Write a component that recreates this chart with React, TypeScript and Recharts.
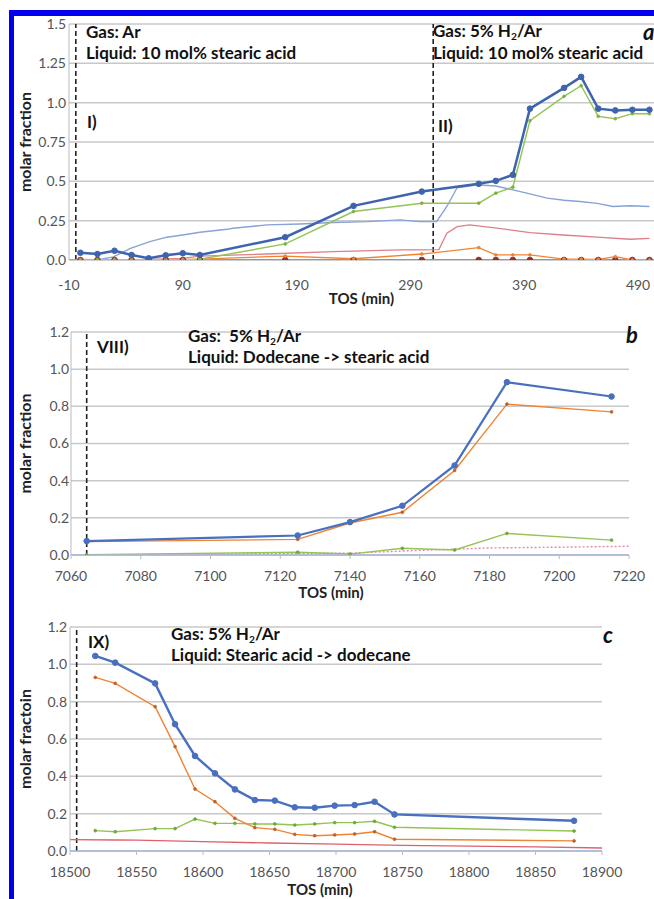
import React from 'react';
import { LineChart, Line, XAxis, YAxis, CartesianGrid, ReferenceLine, Label } from 'recharts';

const FONT = 'Lato, "Open Sans", sans-serif';

// ---- panel a: 10 mol% stearic acid, Ar then 5% H2/Ar
const aTimes = [0, 15, 30, 45, 60, 75, 90, 105, 180, 240, 300, 350, 365, 380, 395, 425, 440, 455, 470, 485, 500];
const aBlue = [0.046, 0.038, 0.059, 0.032, 0.011, 0.03, 0.043, 0.032, 0.145, 0.344, 0.435, 0.484, 0.503, 0.541, 0.962, 1.094, 1.164, 0.962, 0.951, 0.955, 0.955];
const aGreen = [0, 0, 0, 0, 0, 0, 0, 0.005, 0.102, 0.308, 0.361, 0.361, 0.425, 0.463, 0.885, 1.04, 1.108, 0.913, 0.898, 0.93, 0.93];
const aOrange = [0.004, 0.003, 0.003, 0.003, 0.003, 0.003, 0.003, 0.005, 0.025, 0.008, 0.038, 0.079, 0.032, 0.032, 0.032, 0.006, 0.006, 0.004, 0.021, 0.0, 0.0];
const aDarkRed = [0, 0, 0, 0, 0, 0, 0, 0, 0, 0, 0, 0, 0, 0, 0, 0, 0, 0, 0, 0, 0];
const aLightTimes = [-2, 15, 29, 44, 61, 76, 90, 105, 129, 134, 164, 193, 222, 252, 281, 298, 313, 322, 331, 342, 348, 365, 380, 395, 410, 425, 439, 454, 468, 483, 500];
const aLightBlue = [0.0, 0.0, 0.02, 0.074, 0.117, 0.145, 0.159, 0.176, 0.195, 0.202, 0.223, 0.229, 0.238, 0.244, 0.255, 0.244, 0.244, 0.34, 0.459, 0.47, 0.478, 0.47, 0.446, 0.42, 0.393, 0.38, 0.372, 0.36, 0.34, 0.345, 0.34];
const aPinkTimes = [0, 45, 90, 105, 164, 222, 281, 299, 315, 322, 331, 342, 366, 395, 424, 454, 483, 500];
const aPink = [0.0, 0.0, 0.01, 0.025, 0.038, 0.053, 0.064, 0.064, 0.066, 0.17, 0.212, 0.223, 0.202, 0.174, 0.159, 0.145, 0.132, 0.138];
const aBaseTimes = [-10, 504];
const aBase = [0.003, 0.003];
const aXTicks = [-10, 90, 190, 290, 390, 490];
const aYTicks = [0, 0.25, 0.5, 0.75, 1.0, 1.25, 1.5];
const aSwitch = [-4, 310];

// ---- panel b: dodecane -> stearic acid
const bTimes = [7064.5, 7125, 7140, 7155, 7170, 7185, 7215];
const bBlue = [0.075, 0.105, 0.177, 0.265, 0.482, 0.93, 0.853];
const bOrange = [0.072, 0.084, 0.172, 0.23, 0.455, 0.812, 0.77];
const bGreen = [0.002, 0.015, 0.005, 0.036, 0.027, 0.116, 0.08];
const bPinkTimes = [7064.5, 7100, 7140, 7160, 7180, 7200, 7220];
const bPink = [0.0, 0.005, 0.01, 0.025, 0.038, 0.042, 0.047];
const bXTicks = [7060, 7080, 7100, 7120, 7140, 7160, 7180, 7200, 7220];
const bYTicks = [0, 0.2, 0.4, 0.6, 0.8, 1.0, 1.2];
const bSwitch = 7064.5;

// ---- panel c: stearic acid -> dodecane
const cTimes = [18519, 18534, 18564, 18579, 18594, 18609, 18624, 18639, 18654, 18669, 18684, 18699, 18714, 18729, 18744, 18879];
const cBlue = [1.045, 1.009, 0.898, 0.679, 0.509, 0.416, 0.33, 0.273, 0.27, 0.234, 0.232, 0.243, 0.246, 0.264, 0.196, 0.162];
const cOrange = [0.93, 0.898, 0.773, 0.559, 0.332, 0.264, 0.175, 0.125, 0.116, 0.089, 0.082, 0.086, 0.091, 0.103, 0.063, 0.054];
const cGreen = [0.109, 0.103, 0.12, 0.12, 0.171, 0.148, 0.148, 0.145, 0.145, 0.139, 0.145, 0.152, 0.152, 0.159, 0.127, 0.107];
const cRedTimes = [18500, 18535, 18550, 18600, 18650, 18700, 18750, 18800, 18850, 18900];
const cRed = [0.061, 0.059, 0.058, 0.05, 0.043, 0.037, 0.03, 0.026, 0.022, 0.016];
const cXTicks = [18500, 18550, 18600, 18650, 18700, 18750, 18800, 18850, 18900];
const cYTicks = [0, 0.2, 0.4, 0.6, 0.8, 1.0, 1.2];
const cSwitch = 18505;

const BLUE = '#3f64ae';
const ORANGE = '#ee8434';
const GREEN = '#93c455';

const zip = (ts: number[], vs: number[]) => ts.map((t, i) => ({ t, v: vs[i] }));

const tickStyle = { fontSize: 14, fill: '#555', fontFamily: FONT };
const titleStyle = { fontSize: 15, fontWeight: 700, fill: '#222', fontFamily: FONT };
const gridColor = '#c8c8c8';

const fmtA = (v: number) => (Math.abs(v * 2 - Math.round(v * 2)) < 1e-9 ? v.toFixed(1) : v.toFixed(2));
const fmt1 = (v: number) => v.toFixed(1);

const Note = ({ x, y, size = 17, italic = false, children }: any) => (
  <div style={{
    position: 'absolute', left: x, top: y - size * 0.6, fontSize: size, lineHeight: `${size * 1.1}px`,
    fontWeight: 700, fontStyle: italic ? 'italic' : 'normal', whiteSpace: 'nowrap', color: '#111', fontFamily: FONT,
  }}>{children}</div>
);

const H2 = () => <span>H<sub style={{ fontSize: '0.6em', lineHeight: 0, verticalAlign: '-0.25em' }}>2</sub></span>;

const dotBig = (c: string) => ({ r: 2.8, fill: c, stroke: c, strokeWidth: 1 });
const dotSmall = (c: string) => ({ r: 1.4, fill: c, stroke: c, strokeWidth: 0.8 });

function PanelA() {
  return (
    <div style={{ position: 'absolute', left: 0, top: 0 }}>
      <LineChart width={655} height={310} margin={{ top: 24, right: 1, left: 0, bottom: 0 }}>
        <CartesianGrid vertical={false} stroke={gridColor} strokeWidth={1.5} />
        <XAxis type="number" dataKey="t" domain={[-10, 504]} ticks={aXTicks} allowDataOverflow
          tickLine={false} axisLine={{ stroke: gridColor }} tick={tickStyle} tickMargin={14} height={50}>
          <Label value="TOS (min)" position="insideBottom" offset={6} style={titleStyle} />
        </XAxis>
        <YAxis type="number" domain={[0, 1.5]} ticks={aYTicks} tickFormatter={fmtA} allowDataOverflow width={69}
          tickLine={false} tickSize={0} tickMargin={3} axisLine={{ stroke: '#bbb' }} tick={tickStyle}>
          <Label value="molar fraction" angle={-90} position="insideLeft" offset={25}
            style={{ ...titleStyle, fontSize: 16, textAnchor: 'middle' }} />
        </YAxis>
        {aSwitch.map(x => (
          <ReferenceLine key={x} x={x} stroke="#222" strokeWidth={1.6} strokeDasharray="5 3" />
        ))}
        <Line data={zip(aBaseTimes, aBase)} dataKey="v" stroke="#8a6fb3" strokeWidth={1.3} dot={false} isAnimationActive={false} />
        <Line data={zip(aPinkTimes, aPink)} dataKey="v" stroke="#dc8089" strokeWidth={1.3} dot={false} isAnimationActive={false} />
        <Line data={zip(aLightTimes, aLightBlue)} dataKey="v" stroke="#86a2d6" strokeWidth={1.4} dot={false} isAnimationActive={false} />
        <Line data={zip(aTimes, aDarkRed)} dataKey="v" stroke="#b03a3a" strokeWidth={1.3} dot={dotBig('#9c2b2b')} isAnimationActive={false} />
        <Line data={zip(aTimes, aOrange)} dataKey="v" stroke={ORANGE} strokeWidth={1.3} dot={dotSmall(ORANGE)} isAnimationActive={false} />
        <Line data={zip(aTimes, aGreen)} dataKey="v" stroke={GREEN} strokeWidth={1.4} dot={dotSmall('#7fb044')} isAnimationActive={false} />
        <Line data={zip(aTimes, aBlue)} dataKey="v" stroke={BLUE} strokeWidth={2.5} dot={dotBig(BLUE)} isAnimationActive={false} />
      </LineChart>
      <Note x={86} y={33}>Gas: Ar</Note>
      <Note x={86} y={54}>Liquid: 10 mol% stearic acid</Note>
      <Note x={87} y={123}>I)</Note>
      <Note x={433} y={32}>Gas: 5% <H2 />/Ar</Note>
      <Note x={433} y={54}>Liquid: 10 mol% stearic acid</Note>
      <Note x={438} y={127}>II)</Note>
      <Note x={643} y={33} size={22} italic>a</Note>
    </div>
  );
}

function PanelB() {
  return (
    <div style={{ position: 'absolute', left: 0, top: 300 }}>
      <LineChart width={654} height={303} margin={{ top: 32, right: 25, left: 0, bottom: 0 }}>
        <CartesianGrid vertical={false} stroke={gridColor} strokeWidth={1.5} />
        <XAxis type="number" dataKey="t" domain={[7060, 7220]} ticks={bXTicks} allowDataOverflow
          tickLine={{ stroke: '#bbb' }} tickSize={4} axisLine={{ stroke: '#aab4d8', strokeWidth: 1.5 }} tick={tickStyle} tickMargin={12} height={48}>
          <Label value="TOS (min)" position="insideBottom" offset={5} dx={-19} style={titleStyle} />
        </XAxis>
        <YAxis type="number" domain={[0, 1.2]} ticks={bYTicks} tickFormatter={fmt1} allowDataOverflow width={71}
          tickLine={false} tickSize={0} tickMargin={2} axisLine={{ stroke: '#bbb' }} tick={tickStyle}>
          <Label value="molar fraction" angle={-90} position="insideLeft" offset={25}
            style={{ ...titleStyle, fontSize: 16, textAnchor: 'middle' }} />
        </YAxis>
        <ReferenceLine x={bSwitch} stroke="#222" strokeWidth={1.6} strokeDasharray="5 3" />
        <Line data={zip(bPinkTimes, bPink)} dataKey="v" stroke="#e08aa8" strokeWidth={1.4} strokeDasharray="2 2" dot={false} isAnimationActive={false} />
        <Line data={zip(bTimes, bGreen)} dataKey="v" stroke={GREEN} strokeWidth={1.4} dot={dotSmall('#6fa83a')} isAnimationActive={false} />
        <Line data={zip(bTimes, bOrange)} dataKey="v" stroke={ORANGE} strokeWidth={1.4} dot={dotSmall('#c0602a')} isAnimationActive={false} />
        <Line data={zip(bTimes, bBlue)} dataKey="v" stroke="#4870bf" strokeWidth={2.2} dot={dotBig('#4870bf')} isAnimationActive={false} />
      </LineChart>
      <Note x={188} y={37}>Gas:&nbsp; 5% <H2 />/Ar</Note>
      <Note x={188} y={58}>Liquid: Dodecane -&gt; stearic acid</Note>
      <Note x={97} y={48}>VIII)</Note>
      <Note x={626} y={36} size={22} italic>b</Note>
    </div>
  );
}

function PanelC() {
  return (
    <div style={{ position: 'absolute', left: 0, top: 600 }}>
      <LineChart width={654} height={299} margin={{ top: 27, right: 52, left: 0, bottom: 0 }}>
        <CartesianGrid vertical={false} stroke={gridColor} strokeWidth={1.5} />
        <XAxis type="number" dataKey="t" domain={[18500, 18900]} ticks={cXTicks} allowDataOverflow
          tickLine={{ stroke: '#bbb' }} tickSize={4} axisLine={{ stroke: '#9fb8e0', strokeWidth: 1.5 }} tick={tickStyle} tickMargin={12} height={48}>
          <Label value="TOS (min)" position="insideBottom" offset={4} dx={-16} style={titleStyle} />
        </XAxis>
        <YAxis type="number" domain={[0, 1.2]} ticks={cYTicks} tickFormatter={fmt1} allowDataOverflow width={70}
          tickLine={false} tickSize={0} tickMargin={3} axisLine={{ stroke: '#bbb' }} tick={tickStyle}>
          <Label value="molar fractoin" angle={-90} position="insideLeft" offset={25}
            style={{ ...titleStyle, fontSize: 16, textAnchor: 'middle' }} />
        </YAxis>
        <ReferenceLine x={cSwitch} stroke="#222" strokeWidth={1.6} strokeDasharray="5 3" />
        <Line data={zip(cRedTimes, cRed)} dataKey="v" stroke="#e0606a" strokeWidth={1.4} dot={false} isAnimationActive={false} />
        <Line data={zip(cTimes, cGreen)} dataKey="v" stroke={GREEN} strokeWidth={1.4} dot={dotSmall('#6fa83a')} isAnimationActive={false} />
        <Line data={zip(cTimes, cOrange)} dataKey="v" stroke={ORANGE} strokeWidth={1.4} dot={dotSmall('#c0602a')} isAnimationActive={false} />
        <Line data={zip(cTimes, cBlue)} dataKey="v" stroke="#4870bf" strokeWidth={2.4} dot={dotBig('#4870bf')} isAnimationActive={false} />
      </LineChart>
      <Note x={171} y={35}>Gas: 5% <H2 />/Ar</Note>
      <Note x={171} y={56}>Liquid: Stearic acid -&gt; dodecane</Note>
      <Note x={88} y={43}>IX)</Note>
      <Note x={603} y={36} size={22} italic>c</Note>
    </div>
  );
}

export default function App() {
  return (
    <div style={{ position: 'absolute', left: 0, top: 0, width: 654, height: 899, overflow: 'hidden', background: '#fff' }}>
      <div style={{ position: 'absolute', left: 9, top: 10, width: 645, height: 6, background: '#0000ee' }} />
      <div style={{ position: 'absolute', left: 9, top: 10, width: 5, height: 889, background: '#0000ee' }} />
      <PanelA />
      <PanelB />
      <PanelC />
    </div>
  );
}
